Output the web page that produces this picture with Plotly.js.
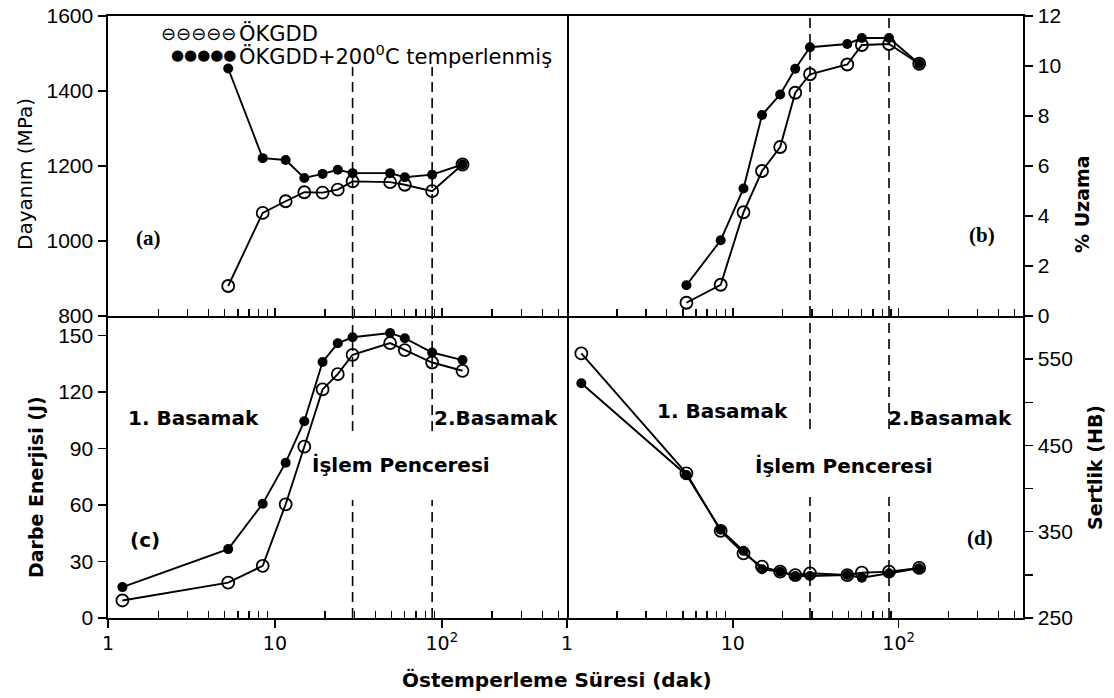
<!DOCTYPE html>
<html>
<head>
<meta charset="utf-8">
<script src="https://cdn.plot.ly/plotly-3.0.1.min.js"></script>
<style>
  html, body { margin: 0; padding: 0; background: #ffffff; }
  #chart { width: 1114px; height: 698px; }
</style>
</head>
<body>
<div id="chart"></div>
<script>
// Östemperleme süresi (dak) – common time points
const sure = [1.22, 5.25, 8.45, 11.6, 15.0, 19.3, 23.8, 29.2, 49, 60, 87.5, 133];

// (a) Dayanım (MPa)
const dayanimOKGDD   = [null, 880, 1075, 1106, 1130, 1129, 1137, 1159, 1157, 1150, 1133, 1204];
const dayanimTemper  = [null, 1460, 1221, 1216, 1168, 1179, 1190, 1181, 1181, 1170, 1177, 1204];
// (b) % Uzama
const uzamaOKGDD     = [null, 0.53, 1.25, 4.15, 5.8, 6.76, 8.93, 9.67, 10.06, 10.84, 10.88, 10.09];
const uzamaTemper    = [null, 1.23, 3.03, 5.1, 8.04, 8.86, 9.89, 10.75, 10.88, 11.12, 11.12, 10.09];
// (c) Darbe Enerjisi (J)
const darbeOKGDD     = [9.3, 18.8, 27.7, 60.4, 91, 121.4, 129.5, 139.8, 146, 142.3, 135.7, 131.3];
const darbeTemper    = [16.4, 36.6, 60.7, 82.5, 104.5, 136, 145.9, 149.1, 151.4, 148.6, 141, 137];
// (d) Sertlik (HB)
const sertlikOKGDD   = [556.6, 417.7, 351, 325, 309.5, 303.7, 299.8, 301.8, 299.8, 302.5, 303.7, 308];
const sertlikTemper  = [522, 415.8, 352.3, 327.8, 306.4, 303.7, 298.6, 298.6, 299.8, 296.7, 301.8, 307.6];

// İşlem penceresi sınırları (dak)
const pencere = [29.2, 87.5];

// Tick labels
const xTickVals = [1, 10, 100];
const xTickText = ['1', '10', '10<sup>2</sup>'];
const xMinorVals = [2,3,4,5,6,7,8,9,20,30,40,50,60,70,80,90,200,300,400,500];
const yTicksA = [800, 1000, 1200, 1400, 1600];
const yTicksB = [0, 2, 4, 6, 8, 10, 12];
const yTicksC = [0, 30, 60, 90, 120, 150];
const yTicksD = [250, 350, 450, 550];
const yMinorD = [300, 400, 500];

const seriesNames = ['ÖKGDD', 'ÖKGDD+200°C temperlenmiş'];

const black = '#000000';
const lineW = 1.9;

function openTrace(y, xa, ya) {
  return {
    x: sure, y: y, xaxis: xa, yaxis: ya, type: 'scatter', mode: 'lines+markers',
    name: seriesNames[0], showlegend: false,
    line: { color: black, width: lineW },
    marker: { symbol: 'circle-open', size: 12, color: black, line: { width: 1.8, color: black } }
  };
}
function filledTrace(y, xa, ya) {
  return {
    x: sure, y: y, xaxis: xa, yaxis: ya, type: 'scatter', mode: 'lines+markers',
    name: seriesNames[1], showlegend: false,
    line: { color: black, width: lineW },
    marker: { symbol: 'circle', size: 10, color: black }
  };
}

const data = [
  filledTrace(dayanimTemper, 'x', 'y'),  openTrace(dayanimOKGDD, 'x', 'y'),
  filledTrace(uzamaTemper, 'x2', 'y2'),  openTrace(uzamaOKGDD, 'x2', 'y2'),
  filledTrace(darbeTemper, 'x3', 'y3'),  openTrace(darbeOKGDD, 'x3', 'y3'),
  filledTrace(sertlikTemper, 'x4', 'y4'), openTrace(sertlikOKGDD, 'x4', 'y4')
];

const L = 108, R = 1023, T = 16, B = 618, W = 1114, H = 698;
const midX = 567, midY = 316;
const px = v => (v - L) / (R - L);
const py = v => (B - v) / (B - T);
const splitX = px(midX), splitY = py(midY);

const numFont = { family: 'Liberation Sans, Arial, sans-serif', size: 21, color: black };
const xNumFont = { family: 'DejaVu Sans, sans-serif', size: 19, color: black };

function xAxis(domain, anchor, top) {
  return {
    type: 'log', range: [0, 2.75], domain: domain, anchor: anchor,
    tickvals: xTickVals, ticktext: xTickText, showticklabels: !top,
    ticks: top ? 'inside' : 'outside', ticklen: 8, tickwidth: 1.5, tickcolor: black,
    minor: { tickvals: xMinorVals, ticks: 'inside', ticklen: 7, tickwidth: 1.3, tickcolor: black, showgrid: false },
    showline: true, linecolor: black, linewidth: 1.6, mirror: top,
    showgrid: false, zeroline: false, tickfont: xNumFont, ticklabelstandoff: 0
  };
}
function yAxis(domain, anchor, range, vals, minorVals, side, mirror) {
  const ax = {
    range: range, domain: domain, anchor: anchor, side: side,
    tickvals: vals, ticks: 'outside', ticklen: 8, tickwidth: 1.5, tickcolor: black,
    showline: true, linecolor: black, linewidth: 1.6, mirror: mirror,
    showgrid: false, zeroline: false, tickfont: numFont, ticklabelstandoff: 1
  };
  if (minorVals) ax.minor = { tickvals: minorVals, ticks: 'outside', ticklen: 8, tickwidth: 1.5, tickcolor: black, showgrid: false };
  return ax;
}

const txt = (s, x, y, font, extra) => Object.assign({
  text: s, x: x, y: y, xref: 'paper', yref: 'paper', showarrow: false,
  xanchor: 'center', yanchor: 'middle', font: font
}, extra || {});

const titleFont = { family: 'DejaVu Sans, sans-serif', size: 19, color: black, weight: 'bold' };
const titleFontA = { family: 'DejaVu Sans, sans-serif', size: 20, color: black };
const xTitleFont = { family: 'DejaVu Sans, sans-serif', size: 20, color: black, weight: 'bold' };
const noteFont = { family: 'DejaVu Sans, sans-serif', size: 20, color: black, weight: 'bold' };
const serifFont = { family: 'Liberation Serif, serif', size: 21, color: black, weight: 'bold' };
const legFont = { family: 'DejaVu Sans, sans-serif', size: 21, color: black };

const annotations = [
  txt('Dayanım (MPa)', px(25), py(174), titleFontA, { textangle: -90 }),
  txt('% Uzama', px(1082), py(204), titleFont, { textangle: -90 }),
  txt('Darbe Enerjisi (J)', px(36), py(487), titleFont, { textangle: -90 }),
  txt('Sertlik (HB)', px(1095), py(468), titleFont, { textangle: -90 }),
  txt('Östemperleme Süresi (dak)', px(557), py(680), xTitleFont),
  txt('(a)', px(148), py(238), serifFont),
  txt('(b)', px(982), py(235), serifFont),
  txt('(c)', px(145), py(540), { family: 'DejaVu Sans, sans-serif', size: 20, color: black, weight: 'bold' }),
  txt('(d)', px(980), py(538), serifFont),
  txt('1. Basamak', px(193), py(418), noteFont),
  txt('2.Basamak', px(496), py(418), noteFont),
  txt('İşlem Penceresi', px(401), py(465), noteFont),
  txt('1. Basamak', px(722), py(411), noteFont),
  txt('2.Basamak', px(950), py(418), noteFont),
  txt('İşlem Penceresi', px(844), py(466), noteFont),
  // legend
  txt('⊖⊖⊖⊖⊖', px(238), py(33), { family: 'DejaVu Sans, sans-serif', size: 18, color: black }, { xanchor: 'right' }),
  txt('●●●●●', px(238), py(55), { family: 'DejaVu Sans, sans-serif', size: 15, color: black }, { xanchor: 'right' }),
  txt(seriesNames[0], px(237), py(33), legFont, { xanchor: 'left' }),
  txt('ÖKGDD+200<sup>0</sup>C temperlenmiş', px(237), py(55), legFont, { xanchor: 'left' })
];

const dashStyle = { color: black, width: 1.6, dash: '10px,6px' };
const shapes = [];
pencere.forEach(v => {
  shapes.push({ type: 'line', xref: 'x', yref: 'paper', x0: v, x1: v, y0: splitY, y1: py(67), line: dashStyle });
  shapes.push({ type: 'line', xref: 'x2', yref: 'paper', x0: v, x1: v, y0: splitY, y1: 1, line: dashStyle });
  shapes.push({ type: 'line', xref: 'x3', yref: 'paper', x0: v, x1: v, y0: py(431), y1: splitY, line: dashStyle });
  shapes.push({ type: 'line', xref: 'x3', yref: 'paper', x0: v, x1: v, y0: 0, y1: py(500), line: dashStyle });
  shapes.push({ type: 'line', xref: 'x4', yref: 'paper', x0: v, x1: v, y0: py(429), y1: splitY, line: dashStyle });
  shapes.push({ type: 'line', xref: 'x4', yref: 'paper', x0: v, x1: v, y0: 0, y1: py(497), line: dashStyle });
});

const layout = {
  width: W, height: H,
  margin: { l: L, r: W - R, t: T, b: H - B, pad: 0 },
  paper_bgcolor: '#ffffff', plot_bgcolor: '#ffffff',
  showlegend: false,
  xaxis:  xAxis([0, splitX], 'y', true),
  xaxis2: xAxis([splitX, 1], 'y2', true),
  xaxis3: xAxis([0, splitX], 'y3', false),
  xaxis4: xAxis([splitX, 1], 'y4', false),
  yaxis:  yAxis([splitY, 1], 'x', [800, 1600], yTicksA, null, 'left', true),
  yaxis2: yAxis([splitY, 1], 'x2', [0, 12], yTicksB, null, 'right', false),
  yaxis3: yAxis([0, splitY], 'x3', [0, 160.4], yTicksC, null, 'left', true),
  yaxis4: yAxis([0, splitY], 'x4', [250, 600], yTicksD, yMinorD, 'right', false),
  annotations: annotations,
  shapes: shapes
};

Plotly.newPlot('chart', data, layout, { displayModeBar: false, staticPlot: true });
</script>
</body>
</html>
